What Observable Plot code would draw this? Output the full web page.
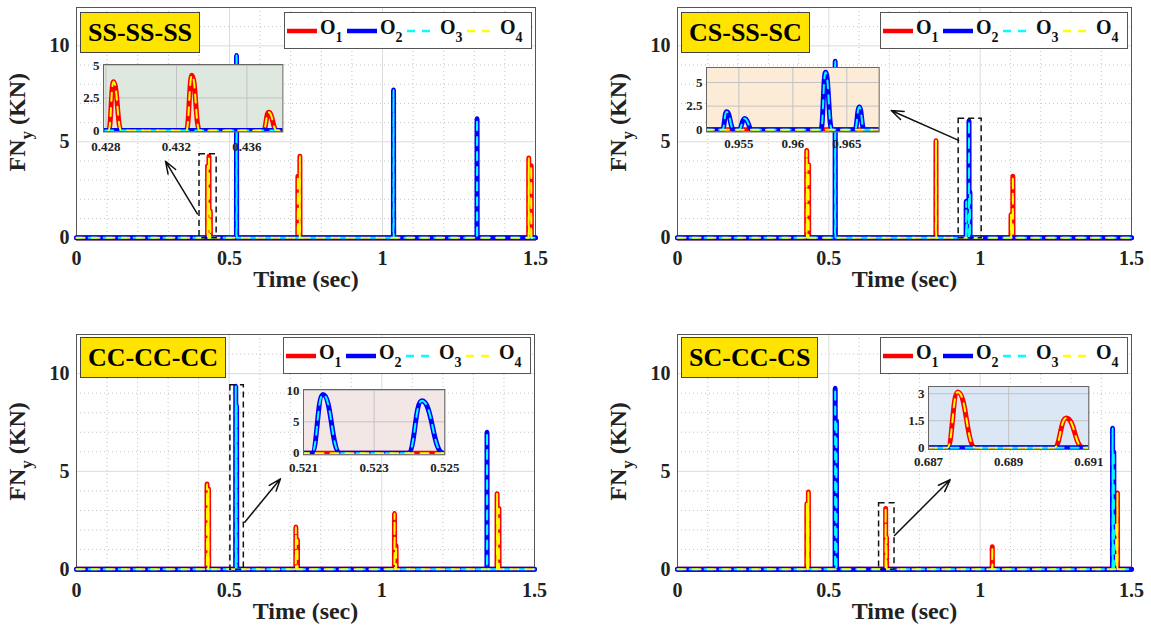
<!DOCTYPE html>
<html><head><meta charset="utf-8">
<script src="https://cdn.jsdelivr.net/npm/d3@7"></script>
<script src="https://cdn.jsdelivr.net/npm/@observablehq/plot@0.6"></script>
<style>
html,body{margin:0;padding:0;background:#fff;}
#root{position:relative;width:1151px;height:635px;overflow:hidden;font-family:"Liberation Serif","Times New Roman",serif;}
#root > svg{position:absolute;}
.title{position:absolute;background:#ffe400;border:1px solid #444;font-weight:bold;font-size:26px;line-height:39px;height:39px;padding:0 7px;color:#000;white-space:nowrap;}
.legend{position:absolute;background:#fff;border:1px solid #555;box-sizing:border-box;width:248px;height:37px;display:flex;align-items:center;padding-left:2px;font-weight:bold;font-size:20px;color:#111;}
#root .legend .item{display:flex;align-items:center;width:60px;flex:0 0 60px;}
#root .legend .item svg{position:static;display:block;flex:0 0 30px;}
.legend .lbl{margin-left:3px;line-height:20px;position:relative;top:-3px;white-space:nowrap;}
.legend sub{font-size:14px;vertical-align:-8px;line-height:0;}
</style>
</head><body><div id="root"></div>
<script>
// ---------------- data ----------------
const panelNames = ["SS-SS-SS", "CS-SS-SC", "CC-CC-CC", "SC-CC-CS"];
const seriesNames = ["O1", "O2", "O3", "O4"];
const xTicks = [0, 0.5, 1, 1.5];
const yTicks = [0, 5, 10];
const xMinor = [0.1, 0.2, 0.3, 0.4, 0.6, 0.7, 0.8, 0.9, 1.1, 1.2, 1.3, 1.4];
const yMinor = [1, 2, 3, 4, 6, 7, 8, 9, 11];

// contact pulses: [start time, peak time, end time, peak force] (sec, KN); zero elsewhere
const SS_O1 = [
  [0.42815, 0.42843, 0.42887, 3.75],
  [0.43256, 0.43288, 0.43331, 4.25],
  [0.43694, 0.43723, 0.43770, 1.4],
  [0.7231, 0.7235, 0.7241, 3.2],
  [0.7296, 0.7300, 0.7306, 4.25],
  [1.4776, 1.4780, 1.4786, 4.15],
  [1.4856, 1.4860, 1.4866, 3.75]
];
const SS_O2 = [
  [0.5226, 0.5230, 0.5236, 9.5],
  [1.0356, 1.0360, 1.0366, 7.7],
  [1.3086, 1.3090, 1.3096, 6.2]
];
const SS_O3 = SS_O2;   // coincides with O2
const SS_O4 = SS_O1;   // coincides with O1

const CS_O1 = [
  [0.4266, 0.4270, 0.4276, 4.55],
  [0.4326, 0.4330, 0.4336, 3.8],
  [0.8536, 0.8540, 0.8546, 5.05],
  [1.1016, 1.1020, 1.1026, 1.2],
  [1.1076, 1.1080, 1.1086, 3.2]
];
const CS_O2 = [
  [0.5206, 0.5210, 0.5216, 9.2],
  [0.95347, 0.95386, 0.95454, 1.9],
  [0.95500, 0.95553, 0.95624, 1.2],
  [0.96260, 0.96303, 0.96362, 6.1],
  [0.96575, 0.96616, 0.96660, 2.4]
];
const CS_O3 = CS_O2;
const CS_O4 = CS_O1;

const CC_O1 = [
  [0.4271, 0.4275, 0.4281, 4.35],
  [0.4321, 0.4325, 0.4331, 4.1],
  [0.7181, 0.7185, 0.7191, 2.15],
  [0.7231, 0.7235, 0.7241, 1.5],
  [1.0411, 1.0415, 1.0421, 2.85],
  [1.0461, 1.0465, 1.0471, 1.2],
  [1.3771, 1.3775, 1.3781, 3.85],
  [1.3831, 1.3835, 1.3841, 3.1]
];
const CC_O2 = [
  [0.52123, 0.52155, 0.52204, 9.35],
  [0.52396, 0.52435, 0.52496, 8.35],
  [1.3441, 1.3445, 1.3451, 7.0]
];
const CC_O3 = CC_O2;
const CC_O4 = CC_O1;

const SC_O1 = [
  [0.4271, 0.4275, 0.4281, 3.35],
  [0.4321, 0.4325, 0.4331, 3.95],
  [0.68747, 0.68773, 0.68817, 3.1],
  [0.69014, 0.69044, 0.69086, 1.65],
  [1.0396, 1.0400, 1.0406, 1.15],
  [1.4491, 1.4495, 1.4501, 2.4],
  [1.4531, 1.4535, 1.4541, 3.9]
];
const SC_O2 = [
  [0.5206, 0.5210, 0.5216, 9.25],
  [0.5246, 0.5250, 0.5256, 7.6],
  [1.4371, 1.4375, 1.4381, 7.2],
  [1.4411, 1.4415, 1.4421, 6.0]
];
const SC_O3 = SC_O2;
const SC_O4 = SC_O1;

// zoomed region marked on each panel: [t1, t2, F1, F2]
const zoomBoxSS = [0.402, 0.458, -0.03, 4.35];
const zoomBoxCS = [0.929, 1.005, -0.03, 6.2];
const zoomBoxCC = [0.504, 0.548, -0.03, 9.4];
const zoomBoxSC = [0.666, 0.717, -0.03, 3.37];
// arrows: [t from, F from, t to, F to]
const arrowSS = [0.395, 1.24, 0.291, 3.98];
const arrowCS = [0.929, 5.07, 0.706, 6.63];
const arrowCC = [0.551, 2.4, 0.668, 4.62];
const arrowSC = [0.717, 1.72, 0.901, 4.57];

// inset domains and ticks
const insetXSS = [0.42786, 0.43804], insetYSS = [-0.12, 5.08], insetXTicksSS = [0.428, 0.432, 0.436], insetYTicksSS = [0, 2.5, 5];
const insetXCS = [0.9520, 0.9680],   insetYCS = [-0.24, 6.59], insetXTicksCS = [0.955, 0.96, 0.965],  insetYTicksCS = [0, 2.5, 5];
const insetXCC = [0.521, 0.525],     insetYCC = [-0.25, 10.15], insetXTicksCC = [0.521, 0.523, 0.525], insetYTicksCC = [0, 5, 10];
const insetXSC = [0.687, 0.691],     insetYSC = [-0.1, 3.4],   insetXTicksSC = [0.687, 0.689, 0.691], insetYTicksSC = [0, 1.5, 3];

// ---------------- styles & layout ----------------
const colors = {O1: "#ff0000", O2: "#0000ff", O3: "#00ffff", O4: "#ffff00"};
const FONT = "'Liberation Serif','Times New Roman',serif";
const fmt = d => String(d);

const panels = [
  {name: panelNames[0], data: {O1: SS_O1, O2: SS_O2, O3: SS_O3, O4: SS_O4}, box: zoomBoxSS, arrow: arrowSS,
   left: 0, top: 0, width: 560, height: 310, mr: 25, mb: 70.5, titleTop: 12,
   inset: {x: insetXSS, y: insetYSS, xt: insetXTicksSS, yt: insetYTicksSS, bg: "#dfe8df", fl: 103.3, ft: 64, fw: 179.4, fh: 67.5, pad: 10}},
  {name: panelNames[1], data: {O1: CS_O1, O2: CS_O2, O3: CS_O3, O4: CS_O4}, box: zoomBoxCS, arrow: arrowCS,
   left: 601, top: 0, width: 550, height: 310, mr: 20, mb: 70.5, titleTop: 12,
   inset: {x: insetXCS, y: insetYCS, xt: insetXTicksCS, yt: insetYTicksCS, bg: "#fcebd7", fl: 706, ft: 66.7, fw: 172.7, fh: 64.5, pad: 7}},
  {name: panelNames[2], data: {O1: CC_O1, O2: CC_O2, O3: CC_O3, O4: CC_O4}, box: zoomBoxCC, arrow: arrowCC,
   left: 0, top: 327, width: 560, height: 308, mr: 26, mb: 64, titleTop: 337,
   inset: {x: insetXCC, y: insetYCC, xt: insetXTicksCC, yt: insetYTicksCC, bg: "#f2e7e5", fl: 302.7, ft: 389, fw: 141.3, fh: 65.3, pad: 8}},
  {name: panelNames[3], data: {O1: SC_O1, O2: SC_O2, O3: SC_O3, O4: SC_O4}, box: zoomBoxSC, arrow: arrowSC,
   left: 601, top: 327, width: 550, height: 308, mr: 20, mb: 64, titleTop: 337,
   inset: {x: insetXSC, y: insetYSC, xt: insetXTicksSC, yt: insetYTicksSC, bg: "#dce7f5", fl: 928, ft: 386, fw: 160.3, fh: 63, pad: 7}}
];

function toPoints(bumps) {
  const out = [{t: 0, v: 0}];
  for (const [s, p, e, h] of bumps) out.push({t: s, v: 0}, {t: p, v: h}, {t: e, v: 0});
  out.push({t: 1.5, v: 0});
  return out;
}

function seriesMarks(d, clip) {
  const base = {x: "t", y: "v", curve: "bump-x", clip, strokeLinejoin: "round"};
  return [
    Plot.line(toPoints(d.O1), {...base, stroke: colors.O1, strokeWidth: 5}),
    Plot.line(toPoints(d.O2), {...base, stroke: colors.O2, strokeWidth: 5}),
    Plot.line(toPoints(d.O3), {...base, stroke: colors.O3, strokeWidth: 2, strokeDasharray: "8,7", strokeDashoffset: 3}),
    Plot.line(toPoints(d.O4), {...base, stroke: colors.O4, strokeWidth: 2, strokeDasharray: "8,7"})
  ];
}

const root = document.getElementById("root");

for (const p of panels) {
  const mt = 7, ml = 76;
  const svg = Plot.plot({
    width: p.width, height: p.height,
    marginLeft: ml, marginRight: p.mr, marginTop: mt, marginBottom: p.mb,
    x: {domain: [0, 1.5]},
    y: {domain: [-0.12, 12]},
    style: {fontFamily: FONT, fontSize: "20px", fontWeight: "bold", background: "transparent", color: "#222", overflow: "visible"},
    marks: [
      Plot.gridX({ticks: xMinor, stroke: "#c4c4c4", strokeOpacity: 1, strokeDasharray: "1,3"}),
      Plot.gridY({ticks: yMinor, stroke: "#c4c4c4", strokeOpacity: 1, strokeDasharray: "1,3"}),
      Plot.gridX({ticks: [0.5, 1], stroke: "#dcdcdc", strokeOpacity: 1}),
      Plot.gridY({ticks: [5, 10], stroke: "#dcdcdc", strokeOpacity: 1}),
      Plot.frame({stroke: "#555"}),
      Plot.axisX({ticks: xTicks, tickSize: 0, tickPadding: 11, tickFormat: fmt, label: null}),
      Plot.axisY({ticks: yTicks, tickSize: 0, tickPadding: 7, tickFormat: fmt, label: null}),
      ...seriesMarks(p.data, false),
      Plot.rect([p.box], {x1: d => d[0], x2: d => d[1], y1: d => d[2], y2: d => d[3], fill: "none", stroke: "#111", strokeWidth: 1.5, strokeDasharray: "6,4"}),
      Plot.arrow([p.arrow], {x1: d => d[0], y1: d => d[1], x2: d => d[2], y2: d => d[3], stroke: "#111", strokeWidth: 1.5, headLength: 13, headAngle: 40}),
      Plot.text(["Time (sec)"], {frameAnchor: "bottom", dy: 47, fontSize: 24, fontWeight: "bold", fill: "#222"})
    ]
  });
  svg.style.left = p.left + "px";
  svg.style.top = p.top + "px";
  // y-axis label with subscript
  const fb = p.height - p.mb;
  const t = d3.select(svg).append("text")
    .attr("transform", `translate(25,${(mt + fb) / 2 - 1}) rotate(-90)`)
    .attr("text-anchor", "middle").attr("font-size", 24).attr("font-weight", "bold")
    .attr("font-family", FONT).attr("fill", "#222");
  t.append("tspan").text("FN");
  t.append("tspan").attr("dy", 7).attr("font-size", 17).text("y");
  t.append("tspan").attr("dy", -7).text(" (KN)");
  root.appendChild(svg);

  // inset
  const q = p.inset;
  const iml = 40, imr = 22, imt = 6, imb = 26;
  const isvg = Plot.plot({
    width: q.fw + iml + imr, height: q.fh + imt + imb,
    marginLeft: iml, marginRight: imr, marginTop: imt, marginBottom: imb,
    x: {domain: q.x}, y: {domain: q.y},
    style: {fontFamily: FONT, fontSize: "13px", fontWeight: "bold", background: "transparent", color: "#222", overflow: "visible"},
    marks: [
      Plot.frame({fill: q.bg, stroke: "none"}),
      Plot.gridX({ticks: q.xt, stroke: "#c2c2c2", strokeOpacity: 1}),
      Plot.gridY({ticks: q.yt, stroke: "#c2c2c2", strokeOpacity: 1}),
      Plot.axisX({ticks: q.xt, tickSize: 0, tickPadding: q.pad, tickFormat: fmt, label: null}),
      Plot.axisY({ticks: q.yt, tickSize: 0, tickPadding: 4, tickFormat: fmt, label: null}),
      ...seriesMarks(p.data, true),
      Plot.frame({stroke: "#666"})
    ]
  });
  isvg.style.left = (q.fl - iml) + "px";
  isvg.style.top = (q.ft - imt) + "px";
  root.appendChild(isvg);

  // title box
  const frameLeft = p.left + ml;
  const frameRight = p.left + p.width - p.mr;
  const title = document.createElement("div");
  title.className = "title";
  title.textContent = p.name;
  title.style.left = (frameLeft + 4) + "px";
  title.style.top = p.titleTop + "px";
  root.appendChild(title);

  // legend
  const lg = document.createElement("div");
  lg.className = "legend";
  lg.style.left = (frameRight - 3 - 248) + "px";
  lg.style.top = p.titleTop + "px";
  seriesNames.forEach((s, i) => {
    const dashed = i >= 2;
    const item = document.createElement("div");
    item.className = "item";
    item.innerHTML = `<svg width="30" height="10"><line x1="0" x2="30" y1="5" y2="5" stroke="${colors[s]}" stroke-width="${dashed ? 2.5 : 4.5}" ${dashed ? 'stroke-dasharray="8,7"' : ''}/></svg><span class="lbl">${s[0]}<sub>${s.slice(1)}</sub></span>`;
    lg.appendChild(item);
  });
  root.appendChild(lg);
}
</script></body></html>
